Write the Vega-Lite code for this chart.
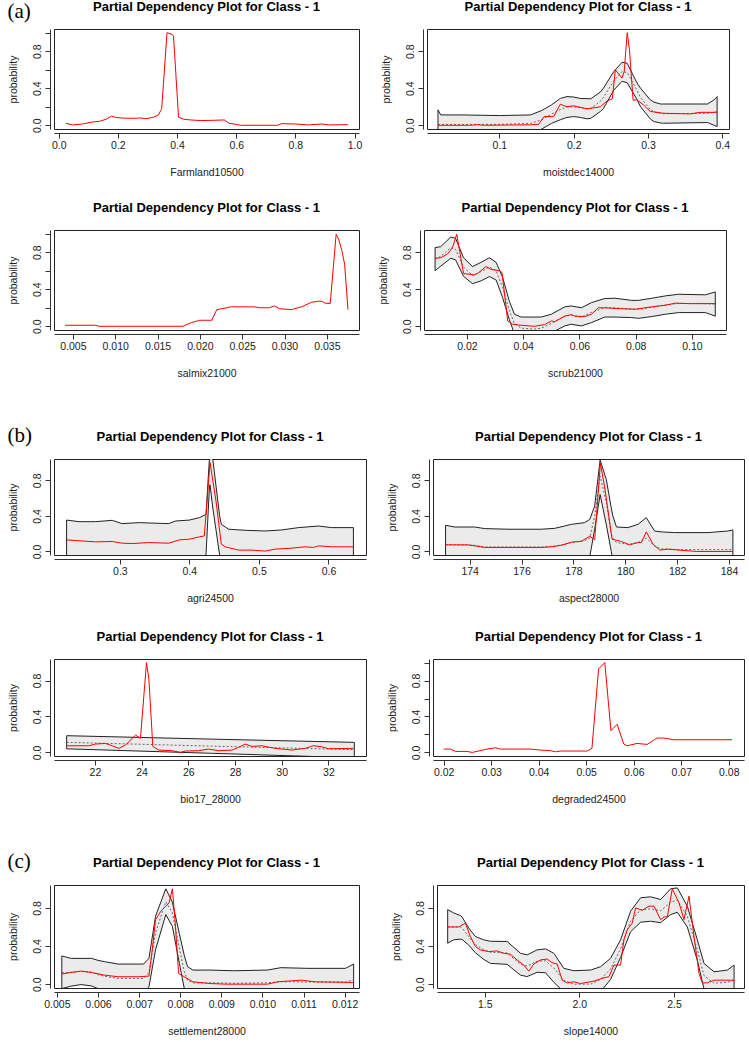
{
"$schema": "https://vega.github.io/schema/vega-lite/v6.json",
"padding": {"top": 0, "left": 7, "right": 0, "bottom": 0},
"background": "white",
"datasets": {
"fr": [{"x":0.024,"p":0.022},{"x":0.047,"p":0.004},{"x":0.08,"p":0.014},{"x":0.115,"p":0.036},{"x":0.138,"p":0.043},{"x":0.16,"p":0.065},{"x":0.178,"p":0.098},{"x":0.195,"p":0.083},{"x":0.23,"p":0.076},{"x":0.265,"p":0.076},{"x":0.27,"p":0.08},{"x":0.297,"p":0.072},{"x":0.32,"p":0.087},{"x":0.337,"p":0.112},{"x":0.348,"p":0.178},{"x":0.366,"p":1.0},{"x":0.383,"p":0.982},{"x":0.388,"p":0.964},{"x":0.405,"p":0.087},{"x":0.423,"p":0.065},{"x":0.445,"p":0.058},{"x":0.48,"p":0.051},{"x":0.525,"p":0.054},{"x":0.56,"p":0.058},{"x":0.576,"p":0.022},{"x":0.593,"p":0.014},{"x":0.615,"p":0.0},{"x":0.74,"p":0.0},{"x":0.753,"p":0.018},{"x":0.8,"p":0.014},{"x":0.844,"p":0.004},{"x":0.89,"p":0.014},{"x":0.912,"p":0.004},{"x":0.977,"p":0.007}],
"mr": [{"x":0.0174,"p":0.0},{"x":0.06,"p":0.0},{"x":0.07,"p":0.006},{"x":0.08,"p":0.0},{"x":0.12,"p":0.004},{"x":0.142,"p":0.005},{"x":0.153,"p":0.011},{"x":0.16,"p":0.094},{"x":0.173,"p":0.094},{"x":0.182,"p":0.228},{"x":0.191,"p":0.2},{"x":0.2,"p":0.21},{"x":0.218,"p":0.178},{"x":0.236,"p":0.2},{"x":0.245,"p":0.264},{"x":0.252,"p":0.286},{"x":0.256,"p":0.6},{"x":0.265,"p":0.51},{"x":0.268,"p":0.58},{"x":0.272,"p":1.0},{"x":0.275,"p":0.82},{"x":0.28,"p":0.27},{"x":0.285,"p":0.275},{"x":0.294,"p":0.22},{"x":0.303,"p":0.15},{"x":0.321,"p":0.13},{"x":0.357,"p":0.123},{"x":0.37,"p":0.14},{"x":0.393,"p":0.14}],
"mb": [{"x":0.0174,"lo":-0.08,"hi":0.167,"mid":0.01},{"x":0.021,"lo":-0.08,"hi":0.112,"mid":0.01},{"x":0.05,"lo":-0.08,"hi":0.112,"mid":0.01},{"x":0.1,"lo":-0.09,"hi":0.105,"mid":0.01},{"x":0.142,"lo":-0.09,"hi":0.112,"mid":0.02},{"x":0.157,"lo":-0.04,"hi":0.16,"mid":0.06},{"x":0.17,"lo":0.02,"hi":0.22,"mid":0.12},{"x":0.182,"lo":0.06,"hi":0.29,"mid":0.17},{"x":0.191,"lo":0.085,"hi":0.31,"mid":0.2},{"x":0.2,"lo":0.094,"hi":0.305,"mid":0.2},{"x":0.209,"lo":0.085,"hi":0.29,"mid":0.19},{"x":0.218,"lo":0.07,"hi":0.288,"mid":0.18},{"x":0.223,"lo":0.075,"hi":0.286,"mid":0.18},{"x":0.236,"lo":0.15,"hi":0.36,"mid":0.26},{"x":0.24,"lo":0.18,"hi":0.4,"mid":0.3},{"x":0.254,"lo":0.38,"hi":0.58,"mid":0.48},{"x":0.265,"lo":0.475,"hi":0.68,"mid":0.58},{"x":0.272,"lo":0.46,"hi":0.67,"mid":0.57},{"x":0.285,"lo":0.28,"hi":0.46,"mid":0.38},{"x":0.29,"lo":0.2,"hi":0.4,"mid":0.3},{"x":0.303,"lo":0.07,"hi":0.275,"mid":0.17},{"x":0.308,"lo":0.04,"hi":0.25,"mid":0.145},{"x":0.317,"lo":0.025,"hi":0.23,"mid":0.13},{"x":0.321,"lo":0.022,"hi":0.23,"mid":0.125},{"x":0.38,"lo":0.03,"hi":0.23,"mid":0.13},{"x":0.389,"lo":0.0,"hi":0.275,"mid":0.14},{"x":0.393,"lo":-0.015,"hi":0.31,"mid":0.15}],
"sr": [{"x":0.00408,"p":0.011},{"x":0.00767,"p":0.011},{"x":0.0081,"p":0.0},{"x":0.018,"p":0.0},{"x":0.019,"p":0.04},{"x":0.02,"p":0.065},{"x":0.0214,"p":0.065},{"x":0.022,"p":0.18},{"x":0.0232,"p":0.2},{"x":0.0236,"p":0.21},{"x":0.0264,"p":0.21},{"x":0.0272,"p":0.2},{"x":0.0282,"p":0.2},{"x":0.0288,"p":0.22},{"x":0.0294,"p":0.19},{"x":0.0308,"p":0.18},{"x":0.032,"p":0.21},{"x":0.0332,"p":0.26},{"x":0.034,"p":0.27},{"x":0.0344,"p":0.27},{"x":0.0348,"p":0.25},{"x":0.0354,"p":0.245},{"x":0.0361,"p":0.995},{"x":0.0364,"p":0.94},{"x":0.0368,"p":0.81},{"x":0.0371,"p":0.67},{"x":0.0375,"p":0.18}],
"scr": [{"x":0.0087,"p":0.735},{"x":0.0107,"p":0.74},{"x":0.0131,"p":0.78},{"x":0.0149,"p":0.85},{"x":0.0164,"p":0.995},{"x":0.0188,"p":0.57},{"x":0.0214,"p":0.56},{"x":0.0226,"p":0.555},{"x":0.0238,"p":0.57},{"x":0.0268,"p":0.645},{"x":0.0286,"p":0.615},{"x":0.0315,"p":0.6},{"x":0.0325,"p":0.58},{"x":0.0345,"p":0.058},{"x":0.0363,"p":0.022},{"x":0.0393,"p":0.011},{"x":0.044,"p":0.0},{"x":0.0476,"p":0.018},{"x":0.05,"p":0.058},{"x":0.0512,"p":0.05},{"x":0.0548,"p":0.11},{"x":0.0571,"p":0.126},{"x":0.0583,"p":0.11},{"x":0.0619,"p":0.105},{"x":0.0643,"p":0.13},{"x":0.0667,"p":0.2},{"x":0.069,"p":0.2},{"x":0.0714,"p":0.195},{"x":0.075,"p":0.19},{"x":0.0798,"p":0.184},{"x":0.0833,"p":0.2},{"x":0.0881,"p":0.22},{"x":0.0905,"p":0.227},{"x":0.094,"p":0.25},{"x":0.0988,"p":0.245},{"x":0.1083,"p":0.245}],
"scb": [{"x":0.0087,"lo":0.6,"hi":0.85,"mid":0.725},{"x":0.0107,"lo":0.65,"hi":0.86,"mid":0.755},{"x":0.0143,"lo":0.735,"hi":0.965,"mid":0.85},{"x":0.016,"lo":0.717,"hi":0.95,"mid":0.83},{"x":0.0188,"lo":0.54,"hi":0.74,"mid":0.64},{"x":0.022,"lo":0.46,"hi":0.645,"mid":0.55},{"x":0.025,"lo":0.49,"hi":0.69,"mid":0.59},{"x":0.028,"lo":0.537,"hi":0.74,"mid":0.64},{"x":0.0304,"lo":0.5,"hi":0.69,"mid":0.6},{"x":0.0327,"lo":0.31,"hi":0.53,"mid":0.42},{"x":0.0351,"lo":0.07,"hi":0.27,"mid":0.17},{"x":0.0369,"lo":-0.08,"hi":0.13,"mid":0.03},{"x":0.0393,"lo":-0.15,"hi":0.1,"mid":-0.02},{"x":0.044,"lo":-0.16,"hi":0.1,"mid":-0.03},{"x":0.0464,"lo":-0.14,"hi":0.1,"mid":-0.02},{"x":0.05,"lo":-0.07,"hi":0.13,"mid":0.03},{"x":0.0548,"lo":0.004,"hi":0.21,"mid":0.11},{"x":0.0571,"lo":0.022,"hi":0.22,"mid":0.12},{"x":0.0607,"lo":0.004,"hi":0.2,"mid":0.1},{"x":0.0643,"lo":0.04,"hi":0.256,"mid":0.15},{"x":0.069,"lo":0.1,"hi":0.3,"mid":0.2},{"x":0.0726,"lo":0.1,"hi":0.303,"mid":0.2},{"x":0.0786,"lo":0.094,"hi":0.28,"mid":0.187},{"x":0.081,"lo":0.086,"hi":0.28,"mid":0.183},{"x":0.0857,"lo":0.105,"hi":0.303,"mid":0.204},{"x":0.0905,"lo":0.13,"hi":0.328,"mid":0.23},{"x":0.0952,"lo":0.148,"hi":0.346,"mid":0.247},{"x":0.1048,"lo":0.148,"hi":0.34,"mid":0.244},{"x":0.1083,"lo":0.11,"hi":0.371,"mid":0.24}],
"ar": [{"x":0.2234,"p":0.13},{"x":0.2411,"p":0.12},{"x":0.265,"p":0.108},{"x":0.289,"p":0.112},{"x":0.3033,"p":0.093},{"x":0.3177,"p":0.089},{"x":0.3416,"p":0.1},{"x":0.3703,"p":0.093},{"x":0.3856,"p":0.13},{"x":0.4,"p":0.138},{"x":0.4144,"p":0.164},{"x":0.4215,"p":0.175},{"x":0.4297,"p":1.0},{"x":0.4383,"p":0.566},{"x":0.4459,"p":0.082},{"x":0.4517,"p":0.052},{"x":0.4708,"p":0.015},{"x":0.49,"p":0.015},{"x":0.509,"p":0.004},{"x":0.5234,"p":0.026},{"x":0.5474,"p":0.037},{"x":0.5665,"p":0.052},{"x":0.5785,"p":0.045},{"x":0.5856,"p":0.063},{"x":0.6048,"p":0.052},{"x":0.6359,"p":0.052}],
"ab": [{"x":0.2234,"lo":-0.1,"hi":0.353},{"x":0.2411,"lo":-0.1,"hi":0.335},{"x":0.265,"lo":-0.1,"hi":0.335},{"x":0.289,"lo":-0.1,"hi":0.35},{"x":0.3033,"lo":-0.1,"hi":0.313},{"x":0.3273,"lo":-0.1,"hi":0.324},{"x":0.3703,"lo":-0.1,"hi":0.313},{"x":0.3799,"lo":-0.1,"hi":0.342},{"x":0.4,"lo":-0.1,"hi":0.353},{"x":0.4144,"lo":-0.1,"hi":0.38},{"x":0.4239,"lo":-0.04,"hi":0.417},{"x":0.4287,"lo":0.7,"hi":1.03},{"x":0.4297,"lo":0.75,"hi":1.04},{"x":0.4335,"lo":0.5,"hi":1.05},{"x":0.4435,"lo":-0.04,"hi":0.4},{"x":0.4459,"lo":-0.1,"hi":0.305},{"x":0.4565,"lo":-0.1,"hi":0.25},{"x":0.4804,"lo":-0.1,"hi":0.238},{"x":0.509,"lo":-0.1,"hi":0.23},{"x":0.533,"lo":-0.1,"hi":0.242},{"x":0.5569,"lo":-0.1,"hi":0.268},{"x":0.5856,"lo":-0.1,"hi":0.286},{"x":0.6048,"lo":-0.1,"hi":0.268},{"x":0.6359,"lo":-0.1,"hi":0.268}],
"asr": [{"x":173.07,"p":0.074},{"x":173.94,"p":0.074},{"x":174.19,"p":0.063},{"x":174.58,"p":0.045},{"x":175.48,"p":0.045},{"x":176.76,"p":0.045},{"x":177.15,"p":0.052},{"x":177.54,"p":0.07},{"x":177.92,"p":0.104},{"x":178.31,"p":0.115},{"x":178.63,"p":0.171},{"x":178.82,"p":0.13},{"x":179.04,"p":0.993},{"x":179.21,"p":0.714},{"x":179.49,"p":0.138},{"x":179.85,"p":0.112},{"x":180.17,"p":0.074},{"x":180.49,"p":0.1},{"x":180.62,"p":0.1},{"x":180.81,"p":0.22},{"x":181.07,"p":0.082},{"x":181.33,"p":0.015},{"x":181.65,"p":0.026},{"x":182.74,"p":0.0},{"x":184.15,"p":0.0}],
"asb": [{"x":173.07,"lo":-0.1,"hi":0.294,"mid":0.08},{"x":173.42,"lo":-0.1,"hi":0.275,"mid":0.075},{"x":174.19,"lo":-0.1,"hi":0.275,"mid":0.07},{"x":174.58,"lo":-0.1,"hi":0.257,"mid":0.05},{"x":175.48,"lo":-0.1,"hi":0.25,"mid":0.05},{"x":176.76,"lo":-0.1,"hi":0.25,"mid":0.05},{"x":177.28,"lo":-0.1,"hi":0.26,"mid":0.06},{"x":177.66,"lo":-0.1,"hi":0.286,"mid":0.08},{"x":177.92,"lo":-0.1,"hi":0.305,"mid":0.1},{"x":178.43,"lo":-0.1,"hi":0.324,"mid":0.12},{"x":178.63,"lo":-0.06,"hi":0.36,"mid":0.15},{"x":178.82,"lo":0.25,"hi":0.51,"mid":0.4},{"x":179.03,"lo":0.64,"hi":1.03,"mid":0.85},{"x":179.27,"lo":0.3,"hi":0.807,"mid":0.55},{"x":179.46,"lo":0.0,"hi":0.49,"mid":0.2},{"x":179.52,"lo":-0.1,"hi":0.4,"mid":0.15},{"x":179.66,"lo":-0.1,"hi":0.275,"mid":0.1},{"x":180.1,"lo":-0.1,"hi":0.268,"mid":0.08},{"x":180.49,"lo":-0.1,"hi":0.305,"mid":0.1},{"x":180.81,"lo":-0.1,"hi":0.38,"mid":0.15},{"x":181.13,"lo":-0.1,"hi":0.23,"mid":0.06},{"x":181.39,"lo":-0.1,"hi":0.22,"mid":0.03},{"x":181.9,"lo":-0.1,"hi":0.212,"mid":0.02},{"x":183.19,"lo":-0.1,"hi":0.212,"mid":0.02},{"x":183.96,"lo":-0.1,"hi":0.23,"mid":0.02},{"x":184.15,"lo":-0.1,"hi":0.242,"mid":0.02}],
"br": [{"x":20.79,"p":0.074},{"x":21.74,"p":0.074},{"x":22.03,"p":0.093},{"x":22.46,"p":0.1},{"x":22.74,"p":0.074},{"x":23.03,"p":0.045},{"x":23.31,"p":0.082},{"x":23.74,"p":0.193},{"x":23.95,"p":0.156},{"x":24.21,"p":1.0},{"x":24.31,"p":0.82},{"x":24.48,"p":0.067},{"x":24.74,"p":0.026},{"x":25.3,"p":0.019},{"x":25.66,"p":0.0},{"x":25.87,"p":0.015},{"x":26.44,"p":0.019},{"x":26.87,"p":0.037},{"x":27.3,"p":0.019},{"x":27.87,"p":0.026},{"x":28.15,"p":0.056},{"x":28.44,"p":0.093},{"x":28.72,"p":0.067},{"x":29.15,"p":0.074},{"x":29.72,"p":0.045},{"x":30.43,"p":0.026},{"x":31.0,"p":0.045},{"x":31.36,"p":0.074},{"x":31.71,"p":0.063},{"x":32.0,"p":0.041},{"x":33.07,"p":0.045}],
"bb": [{"x":20.79,"lo":0.04,"hi":0.186,"mid":0.112},{"x":27.0,"lo":-0.01,"hi":0.148,"mid":0.07},{"x":33.11,"lo":-0.06,"hi":0.112,"mid":0.03}],
"dr": [{"x":0.02,"p":0.037},{"x":0.0214,"p":0.037},{"x":0.0225,"p":0.011},{"x":0.0249,"p":0.011},{"x":0.026,"p":0.0},{"x":0.027,"p":0.011},{"x":0.0291,"p":0.037},{"x":0.0309,"p":0.052},{"x":0.0319,"p":0.037},{"x":0.0382,"p":0.037},{"x":0.0404,"p":0.026},{"x":0.0425,"p":0.019},{"x":0.0435,"p":0.007},{"x":0.0446,"p":0.015},{"x":0.0502,"p":0.015},{"x":0.0512,"p":0.045},{"x":0.0526,"p":0.93},{"x":0.0539,"p":1.0},{"x":0.0552,"p":0.242},{"x":0.0565,"p":0.313},{"x":0.0579,"p":0.093},{"x":0.0586,"p":0.074},{"x":0.0607,"p":0.1},{"x":0.0628,"p":0.089},{"x":0.0649,"p":0.16},{"x":0.0663,"p":0.16},{"x":0.0684,"p":0.141},{"x":0.0807,"p":0.141}],
"ser": [{"x":0.00512,"p":0.106},{"x":0.00534,"p":0.123},{"x":0.00559,"p":0.137},{"x":0.00584,"p":0.123},{"x":0.00616,"p":0.095},{"x":0.00649,"p":0.078},{"x":0.00699,"p":0.078},{"x":0.00724,"p":0.085},{"x":0.00732,"p":0.36},{"x":0.0074,"p":0.677},{"x":0.00753,"p":0.765},{"x":0.00765,"p":0.818},{"x":0.00773,"p":0.853},{"x":0.00781,"p":1.0},{"x":0.00788,"p":0.64},{"x":0.00796,"p":0.113},{"x":0.00814,"p":0.067},{"x":0.00831,"p":0.025},{"x":0.00872,"p":0.007},{"x":0.00913,"p":0.0},{"x":0.01012,"p":0.0},{"x":0.01037,"p":0.025},{"x":0.01095,"p":0.042},{"x":0.01128,"p":0.025},{"x":0.01222,"p":0.018}],
"seb": [{"x":0.00512,"lo":-0.046,"hi":0.296,"mid":0.12},{"x":0.00534,"lo":-0.021,"hi":0.271,"mid":0.125},{"x":0.00559,"lo":-0.004,"hi":0.27,"mid":0.133},{"x":0.00584,"lo":-0.018,"hi":0.271,"mid":0.127},{"x":0.006,"lo":-0.046,"hi":0.25,"mid":0.1},{"x":0.00616,"lo":-0.07,"hi":0.236,"mid":0.083},{"x":0.00649,"lo":-0.09,"hi":0.211,"mid":0.06},{"x":0.00711,"lo":-0.09,"hi":0.211,"mid":0.06},{"x":0.00724,"lo":-0.028,"hi":0.271,"mid":0.12},{"x":0.0074,"lo":0.36,"hi":0.712,"mid":0.54},{"x":0.00765,"lo":0.73,"hi":1.0,"mid":0.865},{"x":0.00781,"lo":0.606,"hi":0.86,"mid":0.75},{"x":0.00798,"lo":0.218,"hi":0.53,"mid":0.38},{"x":0.0081,"lo":-0.046,"hi":0.3,"mid":0.13},{"x":0.00818,"lo":-0.1,"hi":0.183,"mid":0.04},{"x":0.00831,"lo":-0.12,"hi":0.148,"mid":0.014},{"x":0.00872,"lo":-0.12,"hi":0.148,"mid":0.014},{"x":0.0093,"lo":-0.12,"hi":0.141,"mid":0.01},{"x":0.01012,"lo":-0.12,"hi":0.148,"mid":0.014},{"x":0.01045,"lo":-0.12,"hi":0.173,"mid":0.026},{"x":0.01111,"lo":-0.12,"hi":0.166,"mid":0.023},{"x":0.01202,"lo":-0.12,"hi":0.166,"mid":0.023},{"x":0.01222,"lo":-0.12,"hi":0.211,"mid":0.045}],
"slr": [{"x":1.3042,"p":0.6},{"x":1.3624,"p":0.6},{"x":1.3977,"p":0.64},{"x":1.4242,"p":0.5},{"x":1.4506,"p":0.395},{"x":1.4771,"p":0.36},{"x":1.5212,"p":0.342},{"x":1.5653,"p":0.349},{"x":1.6005,"p":0.324},{"x":1.6358,"p":0.314},{"x":1.6711,"p":0.254},{"x":1.7063,"p":0.2},{"x":1.7328,"p":0.137},{"x":1.7593,"p":0.211},{"x":1.7945,"p":0.254},{"x":1.8298,"p":0.264},{"x":1.8563,"p":0.225},{"x":1.8827,"p":0.211},{"x":1.9092,"p":0.042},{"x":1.9356,"p":0.014},{"x":1.9709,"p":0.025},{"x":2.0062,"p":0.007},{"x":2.0767,"p":0.032},{"x":2.1296,"p":0.067},{"x":2.1561,"p":0.078},{"x":2.1825,"p":0.2},{"x":2.2178,"p":0.2},{"x":2.2354,"p":0.465},{"x":2.2531,"p":0.571},{"x":2.2795,"p":0.641},{"x":2.2972,"p":0.8},{"x":2.3324,"p":0.775},{"x":2.3677,"p":0.818},{"x":2.3942,"p":0.818},{"x":2.4295,"p":0.677},{"x":2.4471,"p":0.705},{"x":2.4647,"p":0.705},{"x":2.4912,"p":1.0},{"x":2.5265,"p":0.853},{"x":2.5529,"p":0.677},{"x":2.5794,"p":0.923},{"x":2.6058,"p":0.5},{"x":2.6323,"p":0.113},{"x":2.6499,"p":0.014},{"x":2.6764,"p":0.014},{"x":2.7116,"p":0.042},{"x":2.8175,"p":0.042}],
"slb": [{"x":1.3042,"lo":0.43,"hi":0.782,"mid":0.6},{"x":1.3359,"lo":0.465,"hi":0.747,"mid":0.6},{"x":1.3712,"lo":0.472,"hi":0.72,"mid":0.6},{"x":1.38,"lo":0.47,"hi":0.705,"mid":0.59},{"x":1.4153,"lo":0.41,"hi":0.589,"mid":0.5},{"x":1.4506,"lo":0.33,"hi":0.5,"mid":0.415},{"x":1.4947,"lo":0.26,"hi":0.465,"mid":0.36},{"x":1.53,"lo":0.218,"hi":0.45,"mid":0.334},{"x":1.6182,"lo":0.208,"hi":0.448,"mid":0.328},{"x":1.6887,"lo":0.095,"hi":0.324,"mid":0.21},{"x":1.724,"lo":0.08,"hi":0.307,"mid":0.19},{"x":1.7769,"lo":0.125,"hi":0.36,"mid":0.24},{"x":1.821,"lo":0.12,"hi":0.37,"mid":0.245},{"x":1.8651,"lo":0.02,"hi":0.324,"mid":0.17},{"x":1.918,"lo":-0.08,"hi":0.166,"mid":0.04},{"x":1.9709,"lo":-0.15,"hi":0.141,"mid":0.0},{"x":2.0591,"lo":-0.15,"hi":0.148,"mid":0.0},{"x":2.112,"lo":-0.08,"hi":0.183,"mid":0.05},{"x":2.1649,"lo":0.05,"hi":0.271,"mid":0.16},{"x":2.2178,"lo":0.28,"hi":0.465,"mid":0.37},{"x":2.2707,"lo":0.55,"hi":0.765,"mid":0.66},{"x":2.3236,"lo":0.65,"hi":0.906,"mid":0.78},{"x":2.3765,"lo":0.66,"hi":0.916,"mid":0.79},{"x":2.4295,"lo":0.645,"hi":0.888,"mid":0.77},{"x":2.4824,"lo":0.73,"hi":1.0,"mid":0.86},{"x":2.5176,"lo":0.754,"hi":1.01,"mid":0.88},{"x":2.5705,"lo":0.6,"hi":0.818,"mid":0.71},{"x":2.6235,"lo":0.25,"hi":0.465,"mid":0.36},{"x":2.6587,"lo":-0.05,"hi":0.218,"mid":0.09},{"x":2.7116,"lo":-0.12,"hi":0.13,"mid":0.01},{"x":2.7822,"lo":-0.12,"hi":0.148,"mid":0.02},{"x":2.8175,"lo":-0.12,"hi":0.2,"mid":0.04}]
},
"vconcat": [
{
"title": {"text": "(a)", "anchor": "start", "frame": "bounds", "font": "Liberation Serif", "fontSize": 21, "fontWeight": "normal", "offset": -21},
"spacing": 22,
"vconcat": [
{"hconcat": [
{"width": 305, "height": 100, "title": "Partial Dependency Plot for Class - 1",
 "data": {"name": "fr"},
 "mark": {"type": "line", "color": "red", "strokeWidth": 1, "clip": true},
 "encoding": {
  "x": {"field": "x", "type": "quantitative", "title": "Farmland10500", "scale": {"domain": [-0.016, 1.015], "nice": false, "zero": false}, "axis": {"values": [0,0.2,0.4,0.6,0.8,1], "format": ".1f"}},
  "y": {"field": "p", "type": "quantitative", "title": "probability", "scale": {"domain": [-0.04, 1.04], "nice": false, "zero": false}, "axis": {"values": [0,0.2,0.4,0.6,0.8,1], "labelExpr": "round(datum.value*10) % 4 == 0 ? format(datum.value, '.1f') : ''"}}
 }},
{"width": 302, "height": 100, "title": "Partial Dependency Plot for Class - 1",
 "layer": [
  {"data": {"name": "mb"}, "mark": {"type": "area", "fill": "#ebebeb", "stroke": "#222", "strokeWidth": 1, "clip": true},
   "encoding": {
    "x": {"field": "x", "type": "quantitative", "title": "moistdec14000", "scale": {"domain": [0.0026, 0.409], "nice": false, "zero": false}, "axis": {"values": [0.1,0.2,0.3,0.4], "format": ".1f"}},
    "y": {"field": "lo", "type": "quantitative", "title": "probability", "scale": {"domain": [-0.04, 1.04], "nice": false, "zero": false}, "axis": {"values": [0,0.2,0.4,0.6,0.8,1], "labelExpr": "round(datum.value*10) % 4 == 0 ? format(datum.value, '.1f') : ''"}},
    "y2": {"field": "hi"}}},
  {"data": {"name": "mb"}, "mark": {"type": "line", "color": "#666", "strokeDash": [2,2], "strokeWidth": 1, "clip": true},
   "encoding": {"x": {"field": "x", "type": "quantitative", "title": "moistdec14000"}, "y": {"field": "mid", "type": "quantitative", "title": "probability"}}},
  {"data": {"name": "mr"}, "mark": {"type": "line", "color": "red", "strokeWidth": 1, "clip": true},
   "encoding": {"x": {"field": "x", "type": "quantitative", "title": "moistdec14000"}, "y": {"field": "p", "type": "quantitative", "title": "probability"}}}
 ]}
], "spacing": 17},
{"hconcat": [
{"width": 305, "height": 100, "title": "Partial Dependency Plot for Class - 1",
 "data": {"name": "sr"},
 "mark": {"type": "line", "color": "red", "strokeWidth": 1, "clip": true},
 "encoding": {
  "x": {"field": "x", "type": "quantitative", "title": "salmix21000", "scale": {"domain": [0.00277, 0.0388], "nice": false, "zero": false}, "axis": {"values": [0.005,0.01,0.015,0.02,0.025,0.03,0.035], "format": ".3f"}},
  "y": {"field": "p", "type": "quantitative", "title": "probability", "scale": {"domain": [-0.04, 1.04], "nice": false, "zero": false}, "axis": {"values": [0,0.2,0.4,0.6,0.8,1], "labelExpr": "round(datum.value*10) % 4 == 0 ? format(datum.value, '.1f') : ''"}}
 }},
{"width": 302, "height": 100, "title": "Partial Dependency Plot for Class - 1",
 "layer": [
  {"data": {"name": "scb"}, "mark": {"type": "area", "fill": "#ebebeb", "stroke": "#222", "strokeWidth": 1, "clip": true},
   "encoding": {
    "x": {"field": "x", "type": "quantitative", "title": "scrub21000", "scale": {"domain": [0.00476, 0.1121], "nice": false, "zero": false}, "axis": {"values": [0.02,0.04,0.06,0.08,0.1], "format": ".2f"}},
    "y": {"field": "lo", "type": "quantitative", "title": "probability", "scale": {"domain": [-0.04, 1.04], "nice": false, "zero": false}, "axis": {"values": [0,0.2,0.4,0.6,0.8,1], "labelExpr": "round(datum.value*10) % 4 == 0 ? format(datum.value, '.1f') : ''"}},
    "y2": {"field": "hi"}}},
  {"data": {"name": "scb"}, "mark": {"type": "line", "color": "#666", "strokeDash": [2,2], "strokeWidth": 1, "clip": true},
   "encoding": {"x": {"field": "x", "type": "quantitative", "title": "scrub21000"}, "y": {"field": "mid", "type": "quantitative", "title": "probability"}}},
  {"data": {"name": "scr"}, "mark": {"type": "line", "color": "red", "strokeWidth": 1, "clip": true},
   "encoding": {"x": {"field": "x", "type": "quantitative", "title": "scrub21000"}, "y": {"field": "p", "type": "quantitative", "title": "probability"}}}
 ]}
], "spacing": 17}
]
},
{
"title": {"text": "(b)", "anchor": "start", "frame": "bounds", "font": "Liberation Serif", "fontSize": 21, "fontWeight": "normal", "offset": -15},
"spacing": 25,
"vconcat": [
{"hconcat": [
{"width": 312, "height": 96, "title": "Partial Dependency Plot for Class - 1",
 "layer": [
  {"data": {"name": "ab"}, "mark": {"type": "area", "fill": "#ebebeb", "stroke": "#222", "strokeWidth": 1, "clip": true},
   "encoding": {
    "x": {"field": "x", "type": "quantitative", "title": "agri24500", "scale": {"domain": [0.2053, 0.654], "nice": false, "zero": false}, "axis": {"values": [0.3,0.4,0.5,0.6], "format": ".1f"}},
    "y": {"field": "lo", "type": "quantitative", "title": "probability", "scale": {"domain": [-0.04, 1.04], "nice": false, "zero": false}, "axis": {"values": [0,0.2,0.4,0.6,0.8,1], "labelExpr": "round(datum.value*10) % 4 == 0 ? format(datum.value, '.1f') : ''"}},
    "y2": {"field": "hi"}}},
  {"data": {"name": "ar"}, "mark": {"type": "line", "color": "red", "strokeWidth": 1, "clip": true},
   "encoding": {"x": {"field": "x", "type": "quantitative", "title": "agri24500"}, "y": {"field": "p", "type": "quantitative", "title": "probability"}}}
 ]},
{"width": 311, "height": 96, "title": "Partial Dependency Plot for Class - 1",
 "layer": [
  {"data": {"name": "asb"}, "mark": {"type": "area", "fill": "#ebebeb", "stroke": "#222", "strokeWidth": 1, "clip": true},
   "encoding": {
    "x": {"field": "x", "type": "quantitative", "title": "aspect28000", "scale": {"domain": [172.586, 184.578], "nice": false, "zero": false}, "axis": {"values": [174,176,178,180,182,184], "format": "d"}},
    "y": {"field": "lo", "type": "quantitative", "title": "probability", "scale": {"domain": [-0.04, 1.04], "nice": false, "zero": false}, "axis": {"values": [0,0.2,0.4,0.6,0.8,1], "labelExpr": "round(datum.value*10) % 4 == 0 ? format(datum.value, '.1f') : ''"}},
    "y2": {"field": "hi"}}},
  {"data": {"name": "asb"}, "mark": {"type": "line", "color": "#666", "strokeDash": [2,2], "strokeWidth": 1, "clip": true},
   "encoding": {"x": {"field": "x", "type": "quantitative", "title": "aspect28000"}, "y": {"field": "mid", "type": "quantitative", "title": "probability"}}},
  {"data": {"name": "asr"}, "mark": {"type": "line", "color": "red", "strokeWidth": 1, "clip": true},
   "encoding": {"x": {"field": "x", "type": "quantitative", "title": "aspect28000"}, "y": {"field": "p", "type": "quantitative", "title": "probability"}}}
 ]}
], "spacing": 19},
{"hconcat": [
{"width": 312, "height": 97, "title": "Partial Dependency Plot for Class - 1",
 "layer": [
  {"data": {"name": "bb"}, "mark": {"type": "area", "fill": "#ebebeb", "stroke": "#222", "strokeWidth": 1, "clip": true},
   "encoding": {
    "x": {"field": "x", "type": "quantitative", "title": "bio17_28000", "scale": {"domain": [20.248, 33.61], "nice": false, "zero": false}, "axis": {"values": [22,24,26,28,30,32], "format": "d"}},
    "y": {"field": "lo", "type": "quantitative", "title": "probability", "scale": {"domain": [-0.04, 1.04], "nice": false, "zero": false}, "axis": {"values": [0,0.2,0.4,0.6,0.8,1], "labelExpr": "round(datum.value*10) % 4 == 0 ? format(datum.value, '.1f') : ''"}},
    "y2": {"field": "hi"}}},
  {"data": {"name": "bb"}, "mark": {"type": "line", "color": "#666", "strokeDash": [2,2], "strokeWidth": 1, "clip": true},
   "encoding": {"x": {"field": "x", "type": "quantitative", "title": "bio17_28000"}, "y": {"field": "mid", "type": "quantitative", "title": "probability"}}},
  {"data": {"name": "br"}, "mark": {"type": "line", "color": "red", "strokeWidth": 1, "clip": true},
   "encoding": {"x": {"field": "x", "type": "quantitative", "title": "bio17_28000"}, "y": {"field": "p", "type": "quantitative", "title": "probability"}}}
 ]},
{"width": 311, "height": 97, "title": "Partial Dependency Plot for Class - 1",
 "data": {"name": "dr"},
 "mark": {"type": "line", "color": "red", "strokeWidth": 1, "clip": true},
 "encoding": {
  "x": {"field": "x", "type": "quantitative", "title": "degraded24500", "scale": {"domain": [0.01775, 0.0832], "nice": false, "zero": false}, "axis": {"values": [0.02,0.03,0.04,0.05,0.06,0.07,0.08], "format": ".2f"}},
  "y": {"field": "p", "type": "quantitative", "title": "probability", "scale": {"domain": [-0.04, 1.04], "nice": false, "zero": false}, "axis": {"values": [0,0.2,0.4,0.6,0.8,1], "labelExpr": "round(datum.value*10) % 4 == 0 ? format(datum.value, '.1f') : ''"}}
 }}
], "spacing": 19}
]
},
{
"title": {"text": "(c)", "anchor": "start", "frame": "bounds", "font": "Liberation Serif", "fontSize": 21, "fontWeight": "normal", "offset": -15},
"hconcat": [
{"width": 305, "height": 103, "title": "Partial Dependency Plot for Class - 1",
 "layer": [
  {"data": {"name": "seb"}, "mark": {"type": "area", "fill": "#ebebeb", "stroke": "#222", "strokeWidth": 1, "clip": true},
   "encoding": {
    "x": {"field": "x", "type": "quantitative", "title": "settlement28000", "scale": {"domain": [0.00493, 0.01235], "nice": false, "zero": false}, "axis": {"values": [0.005,0.006,0.007,0.008,0.009,0.01,0.011,0.012], "format": ".3f"}},
    "y": {"field": "lo", "type": "quantitative", "title": "probability", "scale": {"domain": [-0.04, 1.04], "nice": false, "zero": false}, "axis": {"values": [0,0.2,0.4,0.6,0.8,1], "labelExpr": "round(datum.value*10) % 4 == 0 ? format(datum.value, '.1f') : ''"}},
    "y2": {"field": "hi"}}},
  {"data": {"name": "seb"}, "mark": {"type": "line", "color": "#666", "strokeDash": [2,2], "strokeWidth": 1, "clip": true},
   "encoding": {"x": {"field": "x", "type": "quantitative", "title": "settlement28000"}, "y": {"field": "mid", "type": "quantitative", "title": "probability"}}},
  {"data": {"name": "ser"}, "mark": {"type": "line", "color": "red", "strokeWidth": 1, "clip": true},
   "encoding": {"x": {"field": "x", "type": "quantitative", "title": "settlement28000"}, "y": {"field": "p", "type": "quantitative", "title": "probability"}}}
 ]},
{"width": 307, "height": 103, "title": "Partial Dependency Plot for Class - 1",
 "layer": [
  {"data": {"name": "slb"}, "mark": {"type": "area", "fill": "#ebebeb", "stroke": "#222", "strokeWidth": 1, "clip": true},
   "encoding": {
    "x": {"field": "x", "type": "quantitative", "title": "slope14000", "scale": {"domain": [1.2478, 2.87], "nice": false, "zero": false}, "axis": {"values": [1.5,2.0,2.5], "format": ".1f"}},
    "y": {"field": "lo", "type": "quantitative", "title": "probability", "scale": {"domain": [-0.04, 1.04], "nice": false, "zero": false}, "axis": {"values": [0,0.2,0.4,0.6,0.8,1], "labelExpr": "round(datum.value*10) % 4 == 0 ? format(datum.value, '.1f') : ''"}},
    "y2": {"field": "hi"}}},
  {"data": {"name": "slb"}, "mark": {"type": "line", "color": "#666", "strokeDash": [2,2], "strokeWidth": 1, "clip": true},
   "encoding": {"x": {"field": "x", "type": "quantitative", "title": "slope14000"}, "y": {"field": "mid", "type": "quantitative", "title": "probability"}}},
  {"data": {"name": "slr"}, "mark": {"type": "line", "color": "red", "strokeWidth": 1, "clip": true},
   "encoding": {"x": {"field": "x", "type": "quantitative", "title": "slope14000"}, "y": {"field": "p", "type": "quantitative", "title": "probability"}}}
 ]}
], "spacing": 30
}
],
"spacing": 44,
"config": {
 "font": "Liberation Sans",
 "view": {"stroke": "#222", "strokeWidth": 1},
 "title": {"font": "Liberation Sans", "fontSize": 13, "fontWeight": "bold", "color": "#000", "offset": 15},
 "axis": {"grid": false, "labelFont": "Liberation Sans", "labelFontSize": 10.5, "labelColor": "#222", "titleFont": "Liberation Sans", "titleFontSize": 10.5, "titleFontWeight": "normal", "titleColor": "#222", "tickColor": "#333", "domainColor": "#333", "tickSize": 5, "offset": 4, "labelOverlap": false, "labelFlush": false},
 "axisX": {"labelPadding": 2, "titlePadding": 17},
 "axisY": {"labelAngle": -90, "labelAlign": "center", "labelBaseline": "bottom", "labelPadding": 3, "titlePadding": 14}
}
}
